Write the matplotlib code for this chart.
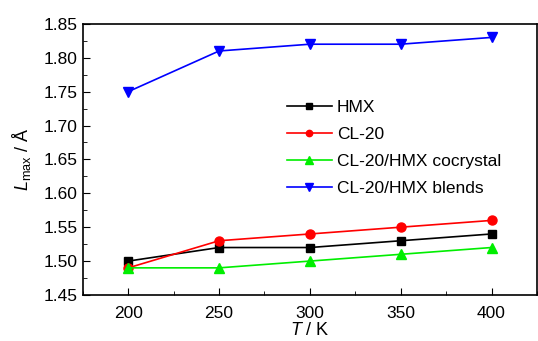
import matplotlib.pyplot as plt
from matplotlib.ticker import MultipleLocator

plt.rcParams['font.family'] = ['Liberation Sans', 'DejaVu Sans']
plt.rcParams['mathtext.fontset'] = 'custom'
plt.rcParams['mathtext.rm'] = 'Liberation Sans'
plt.rcParams['mathtext.it'] = 'Liberation Sans:italic'

# temperaturas e valores
T = [200, 250, 300, 350, 400]
hmx = [1.50, 1.52, 1.52, 1.53, 1.54]
cl20 = [1.49, 1.53, 1.54, 1.55, 1.56]
cocristal = [1.49, 1.49, 1.50, 1.51, 1.52]
mistura = [1.75, 1.81, 1.82, 1.82, 1.83]

fig = plt.figure(figsize=(5.38, 3.41), dpi=100)
ax = fig.add_axes([0.154, 0.135, 0.844, 0.795])

ax.plot(T, hmx, color='black', marker='s', markersize=6, lw=1.2, label='HMX')
ax.plot(T, cl20, color='red', marker='o', markersize=6.5, lw=1.2, label='CL-20')
ax.plot(T, cocristal, color='#00ee00', marker='^', markersize=7.5, lw=1.2, label='CL-20/HMX cocrystal')
ax.plot(T, mistura, color='blue', marker='v', markersize=7.5, lw=1.2, label='CL-20/HMX blends')

ax.set_xlim(175, 425)
ax.set_ylim(1.45, 1.85)
ax.xaxis.set_major_locator(MultipleLocator(50))
ax.xaxis.set_minor_locator(MultipleLocator(25))
ax.yaxis.set_major_locator(MultipleLocator(0.05))
ax.yaxis.set_minor_locator(MultipleLocator(0.025))
ax.tick_params(which='both', direction='in', labelsize=12.5)
ax.tick_params(which='major', length=5)
ax.tick_params(which='minor', length=3)
ax.tick_params(axis='x', pad=8)
ax.yaxis.set_major_formatter(plt.FormatStrFormatter('%.2f'))
for s in ax.spines.values():
    s.set_linewidth(1.2)

ax.set_xlabel(r'$T$ / K', fontsize=13, labelpad=1)
ax.set_ylabel(r'$L_{\mathrm{max}}$ / Å', fontsize=13, labelpad=8)

ax.legend(loc='upper left', bbox_to_anchor=(0.422, 0.765), frameon=False, fontsize=12.5,
          handlelength=2.6, handletextpad=0.3, labelspacing=0.68, borderpad=0.2,
          markerscale=0.7)

fig.savefig('out.png', dpi=100)
